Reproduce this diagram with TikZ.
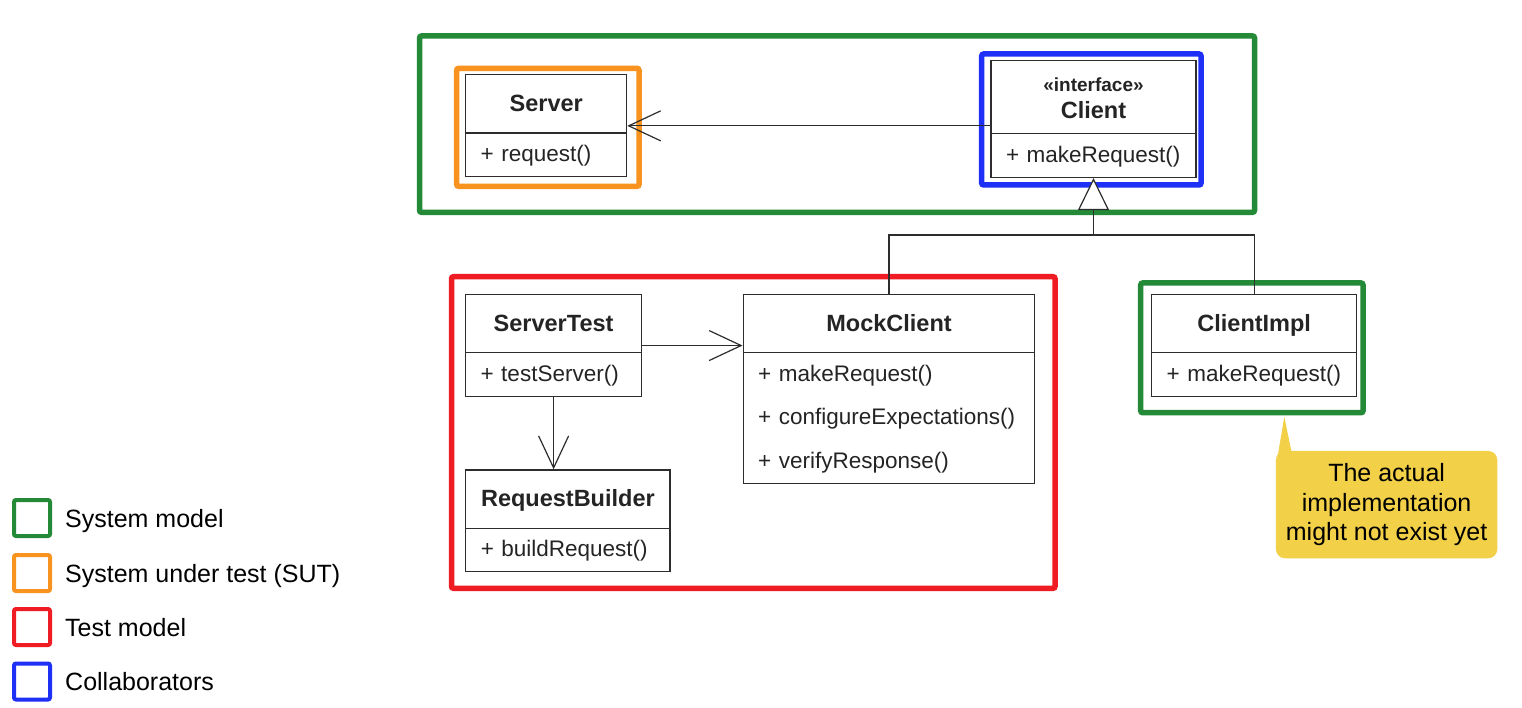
\documentclass[tikz,border=0pt]{standalone}
\usepackage{fontspec}
\setmainfont{Liberation Sans}
\usetikzlibrary{arrows.meta,shapes.multipart}
\setlength{\parindent}{0pt}
\definecolor{sysgreen}{RGB}{36,138,56}
\definecolor{sutorange}{RGB}{247,147,30}
\definecolor{testred}{RGB}{240,28,36}
\definecolor{collabblue}{RGB}{30,48,245}
\definecolor{noteyellow}{RGB}{242,208,72}
\definecolor{umlgray}{RGB}{45,45,45}
\newcommand{\ustrut}[2]{\rule[-#2]{0pt}{\dimexpr#1+#2\relax}}
\newcommand{\clsname}[1]{{\fontsize{23.5}{27.5}\selectfont\bfseries #1}}
\tikzset{
    umlclass/.style={
        rectangle split, rectangle split parts=2,
        draw=umlgray, line width=1.2pt, text=umlgray!80!black,
        inner xsep=15pt, inner ysep=0pt, text width=#1, anchor=north,
        font=\fontsize{22.5}{43.5}\selectfont
    },
    areabox/.style={line width=5.5pt, rounded corners=2pt},
    keybox/.style={draw=#1, line width=4pt, rounded corners=2pt,
        minimum size=36pt, inner sep=0pt},
    keytext/.style={anchor=base west, inner sep=0pt,
        font=\fontsize{25}{30}\selectfont},
    assoc/.style={draw=umlgray, line width=1.2pt,
        -{Straight Barb[length=32pt,width=30pt]}},
    realize/.style={draw=umlgray, line width=1.2pt,
        -{Triangle[open,fill=white,length=32pt,width=31pt]}},
    link/.style={draw=umlgray, line width=1.2pt},
}

\begin{document}
\begin{tikzpicture}[x=1pt,y=-1pt]
      \fill[white] (0,0) rectangle (1522,708);
      \useasboundingbox (0,0) rectangle (1522,708);
      % areas
      \draw[areabox, sysgreen] (419.5,36) rectangle (1254.5,212.3);
      \draw[areabox, sutorange] (456.7,68.3) rectangle (639,186.3);
      \draw[areabox, collabblue] (981.7,54) rectangle (1201,185);
      \draw[areabox, testred] (451.5,276.7) rectangle (1055,588.3);
      \draw[areabox, sysgreen] (1140.7,283) rectangle (1363,412.7);
      % classes
      \node[umlclass=131pt] (server) at (546.2,74.3)
          {\centering\clsname{Server}\ustrut{36pt}{21pt}\par
           \nodepart{two}\ustrut{28pt}{14.5pt}+ request()};
      \node[umlclass=175pt] (client) at (1093.5,60)
          {\centering\fontsize{19}{27.5}\selectfont\bfseries\ustrut{30pt}{0pt}«interface»\\
           \fontsize{23.5}{27.5}\selectfont Client\ustrut{0pt}{14.5pt}\par
           \nodepart{two}\ustrut{28pt}{14.5pt}+ makeRequest()};
      \node[umlclass=146pt] (stest) at (553.6,294)
          {\centering\clsname{ServerTest}\ustrut{36pt}{21pt}\par
           \nodepart{two}\ustrut{28pt}{14.5pt}+ testServer()};
      \node[umlclass=261.7pt] (mock) at (889,294)
          {\centering\clsname{MockClient}\ustrut{36pt}{21pt}\par
           \nodepart{two}\ustrut{28pt}{0pt}+ makeRequest()\\
           + configureExpectations()\\
           + verifyResponse()\ustrut{0pt}{14.5pt}};
      \node[umlclass=174.3pt] (rbuild) at (567.9,469.3)
          {\centering\clsname{RequestBuilder}\ustrut{36pt}{21pt}\par
           \nodepart{two}\ustrut{28pt}{14.5pt}+ buildRequest()};
      \node[umlclass=175pt] (cimpl) at (1254.2,294)
          {\centering\clsname{ClientImpl}\ustrut{36pt}{21pt}\par
           \nodepart{two}\ustrut{28pt}{14.5pt}+ makeRequest()};
      % note
      \node[fill=noteyellow, rounded corners=9pt, minimum width=221.3pt,
            minimum height=107.3pt, inner sep=0pt, align=center,
            font=\fontsize{25}{29.7}\selectfont] (note) at (1386.6,504.6)
          {The actual\\implementation\\might not exist yet};
      \coordinate (tip) at (1284.3,416.7);
      \fill[noteyellow] ([xshift=2pt,yshift=-5pt]note.north west) -- (tip)
          -- ([xshift=15.5pt]note.north west) -- cycle;
      % arrows
      \coordinate (join) at (1093.5,235);
      \draw[assoc] (client.west |- server.east) -- (server.east);
      \draw[assoc] (stest.east) -- (stest.east -| mock.west);
      \draw[assoc] (stest.south) -- (stest.south |- rbuild.north);
      \draw[realize] (mock.north) |- (join) -- (client.south);
      \draw[link] (cimpl.north) |- (join);
      % legend
      \node[keybox=sysgreen] (key1) at (32,518) {};
      \node[keybox=sutorange] (key2) at (32,573) {};
      \node[keybox=testred] (key3) at (32,627) {};
      \node[keybox=collabblue] (key4) at (32,681.5) {};
      \node[keytext] (lab1) at ([xshift=13pt,yshift=-9pt]key1.east) {System model};
      \node[keytext] (lab2) at ([xshift=13pt,yshift=-9pt]key2.east) {System under test (SUT)};
      \node[keytext] (lab3) at ([xshift=13pt,yshift=-9pt]key3.east) {Test model};
      \node[keytext] (lab4) at ([xshift=13pt,yshift=-9pt]key4.east) {Collaborators};
\end{tikzpicture}
\end{document}
